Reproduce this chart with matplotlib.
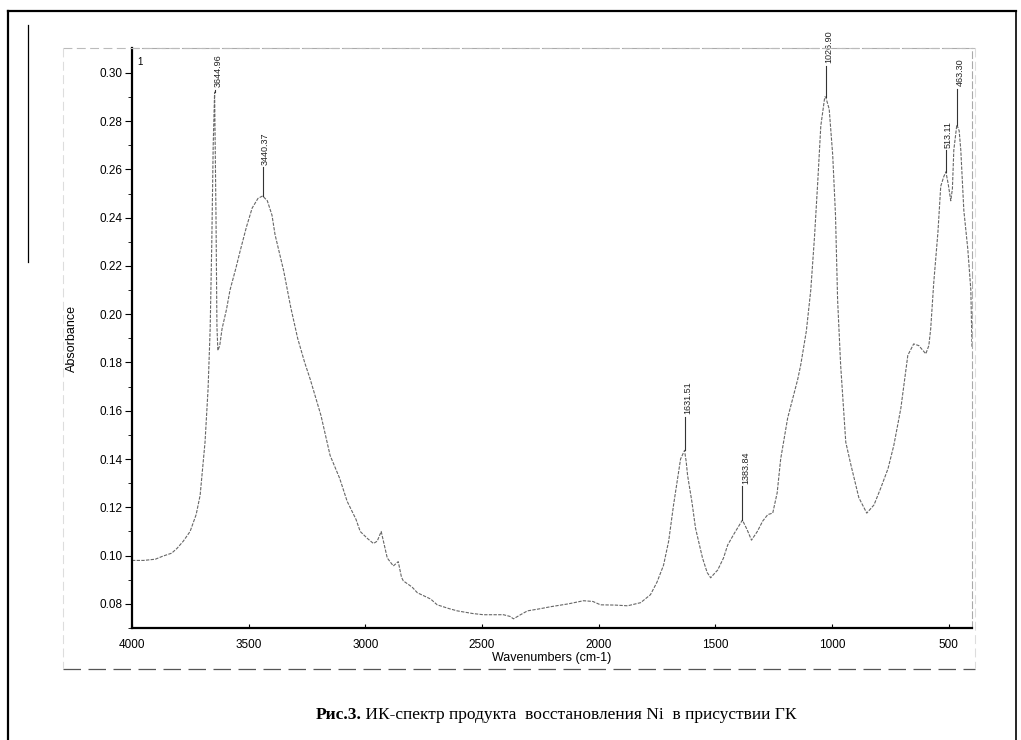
import numpy as np
import matplotlib.pyplot as plt
from matplotlib.lines import Line2D
from matplotlib.transforms import ScaledTranslation

# IR spectrum (wavenumber cm-1, absorbance)
wn = [4000, 3950, 3900, 3867, 3830, 3807, 3780, 3751, 3725, 3708, 3687, 3674,
      3665, 3658, 3652, 3646, 3640, 3636, 3632, 3624, 3614, 3595, 3580, 3555,
      3537, 3510, 3485, 3460, 3440, 3420, 3400, 3387, 3350, 3320, 3290, 3260,
      3236, 3190, 3151, 3110, 3078, 3040, 3022, 2990, 2965, 2949, 2932, 2920,
      2906, 2880, 2865, 2859, 2845, 2837, 2800, 2777, 2720, 2692, 2640, 2606,
      2540, 2494, 2440, 2408, 2380, 2365, 2335, 2305, 2250, 2207, 2130, 2065,
      2025, 1992, 1930, 1876, 1820, 1778, 1750, 1722, 1700, 1679, 1660, 1649,
      1632, 1625, 1619, 1600, 1585, 1555, 1535, 1520, 1500, 1490, 1465, 1447,
      1420, 1384, 1365, 1345, 1320, 1297, 1275, 1254, 1235, 1220, 1190, 1147,
      1134, 1110, 1091, 1075, 1061, 1048, 1031, 1027, 1012, 997, 985, 976,
      963, 941, 920, 885, 851, 820, 791, 760, 735, 705, 675, 650,
      628, 610, 598, 585, 577, 564, 546, 534, 521, 512, 502, 491,
      484, 478, 465, 455, 448, 435, 418, 405, 400]
absorb = [0.098, 0.098, 0.0985, 0.0998, 0.101, 0.103, 0.106, 0.110, 0.117, 0.125, 0.147, 0.169,
          0.194, 0.230, 0.270, 0.292, 0.240, 0.195, 0.185, 0.187, 0.194, 0.202, 0.210, 0.219,
          0.226, 0.236, 0.244, 0.248, 0.249, 0.247, 0.241, 0.233, 0.218, 0.203, 0.190, 0.180,
          0.173, 0.158, 0.1415, 0.132, 0.1225, 0.115, 0.110, 0.107, 0.105, 0.106, 0.110, 0.105,
          0.099, 0.0957, 0.097, 0.0975, 0.091, 0.0895, 0.087, 0.0846, 0.082, 0.0796, 0.078, 0.0771,
          0.076, 0.0755, 0.0755, 0.0755, 0.0748, 0.0738, 0.0755, 0.0771, 0.078, 0.0788, 0.080, 0.0813,
          0.081, 0.0796, 0.0795, 0.0792, 0.0805, 0.0838, 0.089, 0.096, 0.106, 0.121, 0.133, 0.140,
          0.1436, 0.139, 0.1333, 0.122, 0.1114, 0.099, 0.093, 0.0908, 0.093, 0.094, 0.099, 0.1044,
          0.109, 0.1147, 0.111, 0.1064, 0.110, 0.1143, 0.117, 0.1176, 0.126, 0.140, 0.157, 0.173,
          0.179, 0.193, 0.210, 0.232, 0.255, 0.278, 0.290, 0.290, 0.285, 0.266, 0.241, 0.206,
          0.179, 0.147, 0.138, 0.124, 0.1176, 0.121, 0.128, 0.136, 0.1457, 0.161, 0.183, 0.1877,
          0.187, 0.185, 0.1836, 0.187, 0.194, 0.213, 0.234, 0.253, 0.257, 0.259, 0.254, 0.247,
          0.252, 0.268, 0.2785, 0.276, 0.268, 0.243, 0.227, 0.210, 0.186]

peak_wn = [3644.96, 3440.37, 1631.51, 1383.84, 1026.90, 513.11, 463.30]
peak_abs = [0.292, 0.249, 0.1436, 0.1147, 0.290, 0.259, 0.2785]
peak_txt = ['3644.96', '3440.37', '1631.51', '1383.84', '1026.90', '513.11', '463.30']
label_gap = [0.001, 0.012, 0.014, 0.014, 0.013, 0.009, 0.015]

x_ticks = [4000, 3500, 3000, 2500, 2000, 1500, 1000, 500]
y_ticks = [0.08, 0.10, 0.12, 0.14, 0.16, 0.18, 0.20, 0.22, 0.24, 0.26, 0.28, 0.30]

caption_bold = 'Рис.3.'
caption_rest = ' ИК-спектр продукта  восстановления Ni  в присуствии ГК'

W, H = 1021, 740
fig = plt.figure(figsize=(W / 100, H / 100), dpi=100)
plt.rcParams['font.family'] = ['Liberation Sans', 'DejaVu Sans']

ax = fig.add_axes([132 / W, 1 - 628 / H, (972 - 132) / W, (628 - 48) / H])
ax.plot(wn, absorb, color='#666666', lw=0.8, ls=(0, (3, 1.2)))
ax.set_xlim(4000, 400)
ax.set_ylim(0.0709, 0.3103)

ax.set_xticks(x_ticks)
ax.set_yticks(y_ticks)
ax.set_yticks(np.arange(0.07, 0.31, 0.01), minor=True)
ax.set_yticklabels(['%.2f' % v for v in y_ticks])
ax.tick_params(axis='y', which='major', length=5, width=0.8, labelsize=8.5, pad=2)
ax.tick_params(axis='y', which='minor', length=3, width=0.6)
ax.tick_params(axis='x', which='major', length=3, direction='in', labelsize=8.5, pad=8)

ax.set_xlabel('Wavenumbers (cm-1)', fontsize=9, labelpad=1)
ax.set_ylabel('Absorbance', fontsize=9, labelpad=15)

for s in ['left', 'bottom']:
    ax.spines[s].set_linewidth(1.6)
for s in ['top', 'right']:
    ax.spines[s].set_color('#aaaaaa')
    ax.spines[s].set_linewidth(0.8)
    ax.spines[s].set_linestyle((0, (6, 3)))

# peak markers
shift = ScaledTranslation(3 / 100, 0, fig.dpi_scale_trans)
for w, a, t, g in zip(peak_wn, peak_abs, peak_txt, label_gap):
    ax.plot([w, w], [a, a + g], color='#333333', lw=0.8, clip_on=False)
    ax.text(w, a + g + 0.001, t, rotation=90, ha='center', va='bottom',
            fontsize=6.5, color='#222222', transform=ax.transData + shift, clip_on=False)

ax.text(0.006, 0.985, '1', transform=ax.transAxes, fontsize=7, va='top')


def fig_line(xs, ys, **kw):
    fig.add_artist(Line2D([x / W for x in xs], [1 - y / H for y in ys],
                          transform=fig.transFigure, **kw))


# scan frame bits
fig_line([63, 975], [48, 48], color='#bbbbbb', lw=0.8, ls=(0, (8, 4)))
fig_line([63, 63], [48, 668], color='#dddddd', lw=0.8, ls=(0, (8, 4)))
fig_line([975, 975], [48, 668], color='#dddddd', lw=0.8, ls=(0, (8, 4)))
fig_line([63, 975], [669, 669], color='#555555', lw=0.9, ls=(0, (14, 6)))
fig_line([8, 8], [740, 11], color='black', lw=1.6)
fig_line([8, 1016], [11, 11], color='black', lw=1.6)
fig_line([1016, 1016], [740, 11], color='black', lw=1.2)
fig_line([28, 28], [25, 262], color='black', lw=0.9)

# caption
serif = ['Liberation Serif', 'DejaVu Serif']
cy = 1 - 715 / H
t1 = fig.text(0.5, cy, caption_bold, fontsize=12.5, fontweight='bold',
              family=serif, ha='left', va='center')
t2 = fig.text(0.5, cy, caption_rest, fontsize=12.5, family=serif, ha='left', va='center')
fig.canvas.draw()
r = fig.canvas.get_renderer()
wb = t1.get_window_extent(r).width
wr = t2.get_window_extent(r).width
x0 = 556 - (wb + wr) / 2
t1.set_position((x0 / W, cy))
t2.set_position(((x0 + wb) / W, cy))

fig.savefig('out.png', dpi=100)
